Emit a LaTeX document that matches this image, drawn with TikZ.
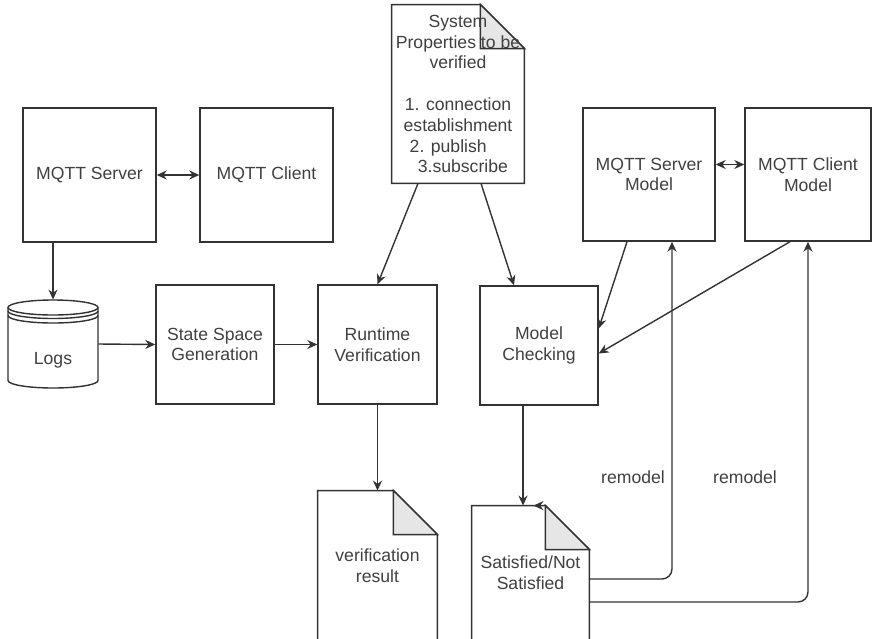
\documentclass[tikz,border=0pt]{standalone}
\usepackage{fontspec}
\setmainfont{Liberation Sans}
\usetikzlibrary{arrows.meta, positioning}

\definecolor{linegray}{HTML}{333333}
\definecolor{textgray}{HTML}{404040}
\definecolor{foldgray}{HTML}{E6E6E6}

\tikzset{
  >={Stealth[length=5pt,width=4.5pt]},
  lbl/.style={text=textgray, align=center, inner sep=0pt,
    font=\fontsize{8.8}{10.4}\selectfont},
  box/.style={lbl, draw=linegray, line width=0.7pt},
  docnode/.style={lbl},
  line/.style={draw=linegray, line width=0.7pt},
  arr/.style={line, ->}
}

% document shape with folded corner
\newcommand{\docoutline}[1]{%
  \draw[line, fill=white] (#1.north west) -- ([xshift=-22pt]#1.north east)
    -- ([yshift=-22pt]#1.north east) -- (#1.south east) -- (#1.south west) -- cycle;
  \draw[line, fill=foldgray] ([xshift=-22pt]#1.north east)
    -- ([xshift=-22pt,yshift=-22pt]#1.north east) -- ([yshift=-22pt]#1.north east) -- cycle;
}

\begin{document}
\begin{tikzpicture}[x=0.5pt, y=-0.5pt]
\clip (0,0) rectangle (873,638);

% real system
\node[box, minimum width=66.5pt, minimum height=67pt] (srv) at (89.5,175) {MQTT Server};
\node[box, minimum width=66.5pt, minimum height=67pt] (cli) at (266.5,175) {MQTT Client};

% logs (data store)
\node[inner sep=0pt, minimum width=45pt, minimum height=44pt] (logs) at (53,344) {};
\draw[line, fill=white] (8,307.5) -- (8,380.5)
  arc[start angle=180, end angle=360, x radius=22.5pt, y radius=3.75pt] -- (98,307.5);
\draw[line, fill=white] (53,307.5) ellipse[x radius=22.5pt, y radius=3.75pt];
\draw[line] (8,311) arc[start angle=180, end angle=360, x radius=22.5pt, y radius=3.75pt];
\draw[line] (8,315.5) arc[start angle=180, end angle=360, x radius=22.5pt, y radius=3.75pt];
\node[lbl] (logstxt) at ([yshift=-8pt]logs.center) {Logs};

% processing
\node[box, minimum width=59pt, minimum height=59.5pt] (ssg) at (215,344.5) {State Space\\Generation};
\node[box, minimum width=59.5pt, minimum height=59.5pt] (rv) at (377.5,344.5) {Runtime\\Verification};
\node[box, minimum width=59pt, minimum height=59.5pt] (mc) at (539,345.5) {Model\\Checking};

% models
\node[box, minimum width=66pt, minimum height=66.5pt] (srvm) at (649,174.5) {MQTT Server\\Model};
\node[box, minimum width=63pt, minimum height=66.5pt] (clim) at (808,174.5) {MQTT Client\\Model};

% documents
\node[docnode, minimum width=66pt, minimum height=89pt] (props) at (458,94) {};
\docoutline{props}
\node[lbl] (propstxt) at (props.center) {System\\Properties to be\\verified\\[10.4pt]1. connection\\establishment\\2. publish\phantom{ab}\\\phantom{a}3.subscribe};

\node[docnode, minimum width=59.5pt, minimum height=74.5pt] (vres) at (377.5,565.5) {};
\docoutline{vres}
\node[lbl] (vrestxt) at (vres.center) {verification\\result};

\node[docnode, minimum width=58.5pt, minimum height=67pt] (sat) at (530.5,573) {};
\docoutline{sat}
\node[lbl] (sattxt) at (sat.center) {Satisfied/Not\\Satisfied};

% connectors
\draw[line, <->] (srv) -- (cli);
\draw[arr] (srv.south -| logs.north) -- (logs.north);
\draw[arr] (logs.east) -- (ssg.west);
\draw[arr] (ssg) -- (rv);
\draw[arr] ([xshift=-20pt]props.south) -- (rv.north);
\draw[arr] ([xshift=11.5pt]props.south) -- ([xshift=-12.5pt]mc.north);
\draw[line, <->] ([yshift=5pt]srvm.east) -- ([yshift=5pt]clim.west);
\draw[arr] ([xshift=-11pt]srvm.south) -- ([yshift=8.5pt]mc.east);
\draw[arr] ([xshift=-9pt]clim.south) -- ([yshift=-4pt]mc.east);
\draw[arr] (rv.south) -- (vres.north);
\draw[arr] ([xshift=-8pt]mc.south) -- ([xshift=-8pt]mc.south |- sat.north);
\draw[arr] ([xshift=-22pt]sat.north east) -- ++(-6pt,0pt);

% remodel loops
\draw[arr, rounded corners=5pt] ([yshift=-3pt]sat.east) -| ([xshift=11.5pt]srvm.south);
\draw[arr, rounded corners=5pt] ([yshift=-14.5pt]sat.east) -| (clim.south);
\node[lbl] (rm1) at (633,477) {remodel};
\node[lbl] (rm2) at (745,477) {remodel};
\end{tikzpicture}
\end{document}
